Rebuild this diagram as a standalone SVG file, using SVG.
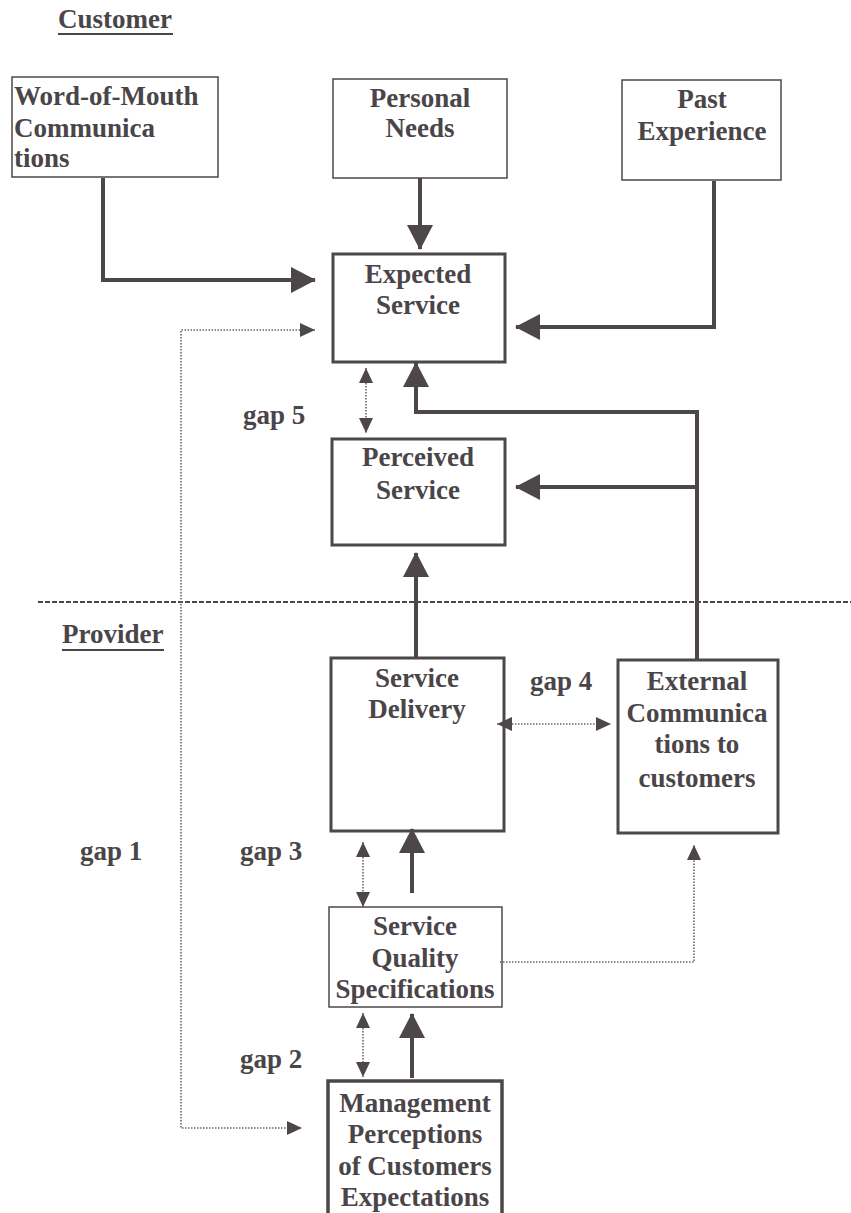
<svg xmlns="http://www.w3.org/2000/svg" width="851" height="1213" viewBox="0 0 851 1213">
<style>
.t{font-family:"Liberation Serif","Times New Roman",Times,serif;font-weight:bold;font-size:27px;fill:#4a4548}
.c{text-anchor:middle}
.box{fill:none;stroke:#4d474a}
.thin{stroke-width:1.5}
.thick{stroke-width:3}
.solid{fill:none;stroke:#4d474a;stroke-width:4}
.dot{fill:none;stroke:#6a6467;stroke-width:1.6;stroke-dasharray:1.5 1.5}
</style>
<defs>
<marker id="big" markerUnits="userSpaceOnUse" markerWidth="26" markerHeight="28" refX="24" refY="13" orient="auto-start-reverse" viewBox="0 0 26 26">
<path d="M0,0 L25,13 L0,26 Z" fill="#4d474a"/>
</marker>
<marker id="sm" markerUnits="userSpaceOnUse" markerWidth="16" markerHeight="16" refX="15" refY="7" orient="auto-start-reverse" viewBox="0 0 16 14">
<path d="M0,0 L15,7 L0,14 Z" fill="#4d474a"/>
</marker>
</defs>
<rect width="851" height="1213" fill="#ffffff"/>

<g id="labels">
<text class="t" x="58" y="28">Customer</text>
<line x1="58" y1="34" x2="173" y2="34" stroke="#4a4548" stroke-width="2"/>
<text class="t" x="62" y="643">Provider</text>
<line x1="62" y1="650" x2="164" y2="650" stroke="#4a4548" stroke-width="2"/>
<line x1="38" y1="602" x2="851" y2="602" stroke="#4d474a" stroke-width="2" stroke-dasharray="5 2"/>
<text class="t" x="243" y="424">gap 5</text>
<text class="t" x="530" y="690">gap 4</text>
<text class="t" x="80" y="860">gap 1</text>
<text class="t" x="240" y="860">gap 3</text>
<text class="t" x="240" y="1068">gap 2</text>
</g>

<g id="word-of-mouth">
<rect class="box thin" x="12" y="77" width="206" height="100"/>
<text class="t" x="14" y="105">Word-of-Mouth</text>
<text class="t" x="14" y="137">Communica</text>
<text class="t" x="14" y="167">tions</text>
</g>
<g id="personal-needs">
<rect class="box thin" x="333" y="79" width="174" height="99"/>
<text class="t c" x="420" y="107">Personal</text>
<text class="t c" x="420" y="137">Needs</text>
</g>
<g id="past-experience">
<rect class="box thin" x="622" y="80" width="159" height="100"/>
<text class="t c" x="702" y="108">Past</text>
<text class="t c" x="702" y="140">Experience</text>
</g>
<g id="expected-service">
<rect class="box thick" x="333" y="254" width="172" height="108"/>
<text class="t c" x="418" y="283">Expected</text>
<text class="t c" x="418" y="314">Service</text>
</g>
<g id="perceived-service">
<rect class="box thick" x="332" y="439" width="173" height="106"/>
<text class="t c" x="418" y="466">Perceived</text>
<text class="t c" x="418" y="499">Service</text>
</g>
<g id="service-delivery">
<rect class="box thick" x="331" y="658" width="173" height="173"/>
<text class="t c" x="417" y="687">Service</text>
<text class="t c" x="417" y="718">Delivery</text>
</g>
<g id="external-communications">
<rect class="box thick" x="618" y="660" width="160" height="173"/>
<text class="t c" x="697" y="690">External</text>
<text class="t c" x="697" y="722">Communica</text>
<text class="t c" x="697" y="753">tions to</text>
<text class="t c" x="697" y="787">customers</text>
</g>
<g id="service-quality-specifications">
<rect class="box thin" x="329" y="907" width="173" height="100"/>
<text class="t c" x="415" y="935">Service</text>
<text class="t c" x="415" y="967">Quality</text>
<text class="t c" x="415" y="998">Specifications</text>
</g>
<g id="management-perceptions">
<rect class="box" stroke-width="3.5" x="328" y="1081" width="174" height="145"/>
<text class="t c" x="415" y="1112">Management</text>
<text class="t c" x="415" y="1143">Perceptions</text>
<text class="t c" x="415" y="1175">of Customers</text>
<text class="t c" x="415" y="1206">Expectations</text>
</g>

<g id="connectors">
<path class="solid" d="M103 178 V280 H315" marker-end="url(#big)"/>
<path class="solid" d="M420 178 V249" marker-end="url(#big)"/>
<path class="solid" d="M714 181 V327 H516" marker-end="url(#big)"/>
<path class="solid" d="M697 660 V412 H416 V363" marker-end="url(#big)"/>
<path class="solid" d="M697 487 H516" marker-end="url(#big)"/>
<path class="solid" d="M416 658 V553" marker-end="url(#big)"/>
<path class="solid" d="M412 893 V829" marker-end="url(#big)"/>
<path class="solid" d="M412 1078 V1014" marker-end="url(#big)"/>
<path class="dot" d="M366 368 V433" marker-start="url(#sm)" marker-end="url(#sm)"/>
<path class="dot" d="M315 330 H181 V1128 H302" marker-start="url(#sm)" marker-end="url(#sm)"/>
<path class="dot" d="M497 724 H611" marker-start="url(#sm)" marker-end="url(#sm)"/>
<path class="dot" d="M363 842 V907" marker-start="url(#sm)" marker-end="url(#sm)"/>
<path class="dot" d="M363 1013 V1077" marker-start="url(#sm)" marker-end="url(#sm)"/>
<path class="dot" d="M500 962 H694 V845" marker-end="url(#sm)"/>
</g>
</svg>
